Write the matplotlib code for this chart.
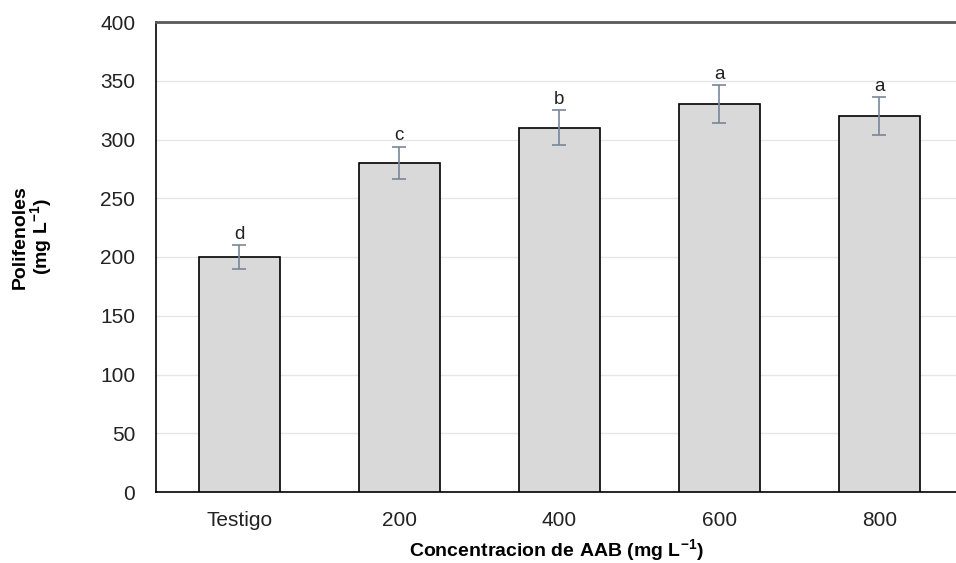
import matplotlib
matplotlib.use("Agg")
import matplotlib.pyplot as plt

categories = ["Testigo", "200", "400", "600", "800"]
values = [200, 280, 310, 330, 320]
errors = [10, 14, 15, 16, 16]
letters = ["d", "c", "b", "a", "a"]
yticks = [0, 50, 100, 150, 200, 250, 300, 350, 400]

plt.rcParams['font.family'] = ['Liberation Sans', 'DejaVu Sans']
plt.rcParams['mathtext.fontset'] = 'custom'
plt.rcParams['mathtext.rm'] = 'Liberation Sans'
plt.rcParams['mathtext.bf'] = 'Liberation Sans:bold'

fig = plt.figure(figsize=(9.56, 5.63), dpi=100)
ax = fig.add_axes([156/956, 1-492/563, 1-156/956, (492-22)/563])

x = list(range(len(categories)))
ax.bar(x, values, width=0.506, color="#d9d9d9", edgecolor="black", linewidth=1.2, zorder=3)
ax.errorbar(x, values, yerr=errors, fmt="none", ecolor="#7a8799", elinewidth=1.2,
            capsize=5, capthick=1.2, zorder=4)
for xi, v, e, l in zip(x, values, errors, letters):
    ax.text(xi, v + e + 2, l, ha="center", va="bottom", fontsize=13.5, color="#222222")

ax.set_xlim(-0.52, 4.48)
ax.set_ylim(0, 400)
ax.set_yticks(yticks)
ax.set_xticks(x)
ax.set_xticklabels(categories)
ax.tick_params(axis="both", length=0, labelsize=15, colors="#222222")
ax.tick_params(axis="x", pad=14)
ax.tick_params(axis="y", pad=15)
ax.yaxis.grid(True, color="#e6e6e6", linewidth=1, zorder=0)
ax.set_axisbelow(True)
ax.spines["right"].set_visible(False)
ax.spines["top"].set_color("#595959")
ax.spines["top"].set_linewidth(2)
ax.spines["left"].set_color("black")
ax.spines["left"].set_linewidth(1.2)
ax.spines["bottom"].set_color("black")
ax.spines["bottom"].set_linewidth(1.2)

ax.set_xlabel(r"Concentracion de AAB (mg L$^{\mathbf{-1}}$)", fontsize=14, fontweight="bold", labelpad=5)
fig.text(0.035, 1-237/563, "Polifenoles\n(mg L$^{\\mathbf{-1}}$)", rotation=90, ha="center", va="center",
         fontsize=14, fontweight="bold", linespacing=1.0)

fig.savefig("out.png", dpi=100)
